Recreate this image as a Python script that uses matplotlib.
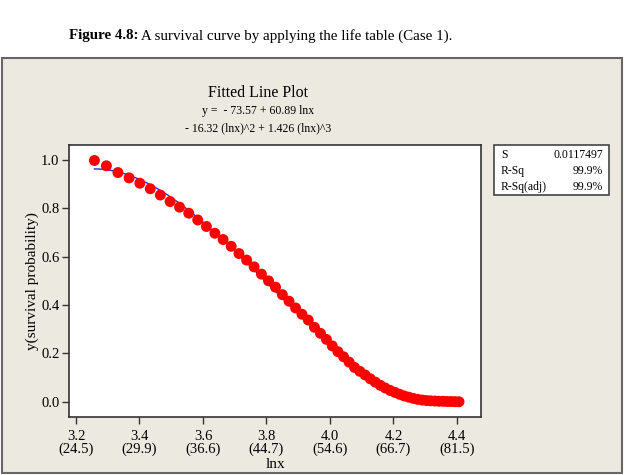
import numpy as np
import matplotlib
matplotlib.use("Agg")
import matplotlib.pyplot as plt
from matplotlib.patches import Rectangle

# ---- data ----
ages = [26, 27, 28, 29, 30, 31, 32, 33, 34, 35, 36, 37, 38, 39, 40, 41, 42, 43, 44,
        45, 46, 47, 48, 49, 50, 51, 52, 53, 54, 55, 56, 57, 58, 59, 60, 61, 62, 63,
        64, 65, 66, 67, 68, 69, 70, 71, 72, 73, 74, 75, 76, 77, 78, 79, 80, 81, 82]
survival = [0.998, 0.976, 0.948, 0.926, 0.904, 0.881, 0.855, 0.828, 0.805, 0.780,
            0.752, 0.725, 0.697, 0.671, 0.643, 0.613, 0.586, 0.558, 0.528, 0.500,
            0.474, 0.443, 0.416, 0.388, 0.362, 0.338, 0.308, 0.283, 0.258, 0.231,
            0.207, 0.186, 0.164, 0.142, 0.126, 0.111, 0.095, 0.081, 0.068, 0.057,
            0.047, 0.039, 0.031, 0.024, 0.019, 0.014, 0.010, 0.007, 0.005, 0.004,
            0.003, 0.002, 0.002, 0.001, 0.001, 0.0005, 0.0]
xtick_vals = [3.2, 3.4, 3.6, 3.8, 4.0, 4.2, 4.4]
xtick_labels = ["3.2\n(24.5)", "3.4\n(29.9)", "3.6\n(36.6)", "3.8\n(44.7)",
                "4.0\n(54.6)", "4.2\n(66.7)", "4.4\n(81.5)"]
ytick_vals = [0.0, 0.2, 0.4, 0.6, 0.8, 1.0]
stats_names = ["S", "R-Sq", "R-Sq(adj)"]
stats_values = ["0.0117497", "99.9%", "99.9%"]

caption_bold = "Figure 4.8:"
caption_rest = " A survival curve by applying the life table (Case 1)."
title = "Fitted Line Plot"
eq1 = "y =  - 73.57 + 60.89 lnx"
eq2 = "- 16.32 (lnx)^2 + 1.426 (lnx)^3"

serif = "Liberation Serif"
plt.rcParams["font.family"] = [serif, "DejaVu Serif"]

lnx = np.log(np.array(ages, dtype=float))
y = np.array(survival)

W, H = 630, 475
fig = plt.figure(figsize=(6.3, 4.75), dpi=100)
fig.patch.set_facecolor("white")

# beige panel
panel = Rectangle((2 / W, 2 / H), 620 / W, 415 / H, transform=fig.transFigure,
                  facecolor="#ECE9E1", edgecolor="#666666", linewidth=1.5, zorder=-10)
fig.patches.append(panel)

# caption
t1 = fig.text(69 / W, 1 - 36 / H, caption_bold, fontsize=10.8, fontweight="bold",
              va="center", ha="left", family=serif)
fig.canvas.draw()
bb = t1.get_window_extent()
fig.text(bb.x1 / W, 1 - 36 / H, caption_rest, fontsize=10.8, va="center", ha="left",
         family=serif)

# titles
cx = 258 / W
fig.text(cx, 1 - 93 / H, title, fontsize=11.5, ha="center", va="center")
fig.text(cx, 1 - 111 / H, eq1, fontsize=8.5, ha="center", va="center")
fig.text(cx, 1 - 128 / H, eq2, fontsize=8.5, ha="center", va="center")

ax = fig.add_axes([69 / W, 1 - 417 / H, (481 - 69) / W, (417 - 145) / H])
ax.set_zorder(2)
ax.set_facecolor("white")

coef = np.polyfit(lnx, y, 3)
xf = np.linspace(lnx.min(), lnx.max(), 200)
ax.plot(xf, np.polyval(coef, xf), color="#2B2BFF", linewidth=1.0, zorder=2)
ax.scatter(lnx, y, s=62, color="#FF0000", edgecolors="none", zorder=3)

ax.set_xlim(3.178, 4.476)
ax.set_ylim(-0.063, 1.062)
ax.set_xticks(xtick_vals)
ax.set_xticklabels(xtick_labels, fontsize=10.5, linespacing=1.0)
ax.set_yticks(ytick_vals)
ax.set_yticklabels([f"{v:.1f}" for v in ytick_vals], fontsize=10.5)
ax.tick_params(direction="out", length=5, width=1, color="#333333", pad=2)
ax.tick_params(axis="x", pad=4)
for s in ax.spines.values():
    s.set_color("#333333")
    s.set_linewidth(1.2)
ax.set_xlabel("lnx", fontsize=11, labelpad=1.5)
ax.set_ylabel("y(survival probability)", fontsize=11, labelpad=1.5)

# stats box
bx0, bx1, by0, by1 = 494, 609, 145, 195
box = Rectangle((bx0 / W, 1 - by1 / H), (bx1 - bx0) / W, (by1 - by0) / H,
                transform=fig.transFigure, facecolor="white", edgecolor="#444444",
                linewidth=1.2, zorder=1)
fig.patches.append(box)
for i, (n, v) in enumerate(zip(stats_names, stats_values)):
    yy = 1 - (155 + 16 * i) / H
    fig.text(501 / W, yy, n, fontsize=8.5, ha="left", va="center")
    fig.text(603 / W, yy, v, fontsize=8.5, ha="right", va="center")

fig.savefig("out.png", dpi=100)
